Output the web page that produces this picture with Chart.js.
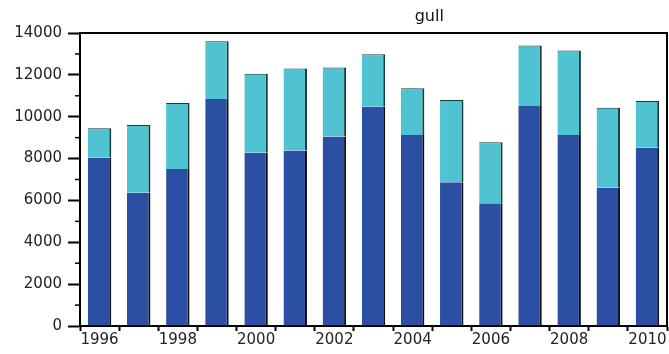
<!DOCTYPE html>
<html>
<head>
<meta charset="utf-8">
<script src="https://cdn.jsdelivr.net/npm/chart.js@4/dist/chart.umd.min.js"></script>
<style>
  html, body { margin: 0; padding: 0; background: #fff; }
  #wrap { width: 669px; height: 354px; }
</style>
</head>
<body>
<div id="wrap"><canvas id="myChart" width="669" height="354"></canvas></div>
<script>
const years = ['1996', '1997', '1998', '1999', '2000', '2001', '2002', '2003',
  '2004', '2005', '2006', '2007', '2008', '2009', '2010'];
// lower (dark blue) part of each bar
const lowerPart = [8050, 6370, 7500, 10850, 8280, 8380, 9050, 10480, 9130, 6870, 5860, 10510, 9130, 6610, 8520];
// upper (light blue) part stacked on top
const upperPart = [1400, 3230, 3150, 2750, 3770, 3920, 3300, 2500, 2230, 3930, 2920, 2890, 4030, 3820, 2230];
const yTicks = [0, 2000, 4000, 6000, 8000, 10000, 12000, 14000];
const title = 'gull';

const FONT = { family: 'DejaVu Sans', size: 15 };

// frame, minor ticks and the title text
const extras = {
  id: 'extras',
  afterDraw(chart) {
    const { ctx, chartArea: a, scales } = chart;
    ctx.save();
    ctx.strokeStyle = '#000';
    ctx.lineWidth = 2;
    ctx.beginPath();
    ctx.moveTo(a.left, a.top);
    ctx.lineTo(a.right, a.top);
    ctx.lineTo(a.right, a.bottom);
    ctx.stroke();
    // minor ticks between labelled values
    ctx.lineWidth = 1.5;
    for (let i = 0; i < yTicks.length - 1; i++) {
      const v = (yTicks[i] + yTicks[i + 1]) / 2;
      const y = scales.y.getPixelForValue(v);
      ctx.beginPath();
      ctx.moveTo(a.left - 5, y);
      ctx.lineTo(a.left, y);
      ctx.stroke();
    }
    ctx.fillStyle = '#111';
    ctx.font = '16px "DejaVu Sans"';
    ctx.textAlign = 'center';
    ctx.textBaseline = 'middle';
    ctx.fillText(title, a.left + (a.right - a.left) * 0.595, 17);
    ctx.restore();
  }
};

new Chart(document.getElementById('myChart'), {
  type: 'bar',
  data: {
    labels: years,
    datasets: [
      {
        data: lowerPart,
        backgroundColor: '#2b4fa3',
        borderColor: '#111',
        borderWidth: { top: 0, right: 2, left: 0, bottom: 0 },
        borderSkipped: false,
        barPercentage: 0.6,
        categoryPercentage: 1
      },
      {
        data: upperPart,
        backgroundColor: '#4fc3d1',
        borderColor: '#1a3a3a',
        borderWidth: { top: 1, right: 2, left: 0, bottom: 0 },
        borderSkipped: false,
        barPercentage: 0.6,
        categoryPercentage: 1
      }
    ]
  },
  options: {
    responsive: false,
    animation: false,
    layout: { padding: { top: 33, right: 2, left: 0, bottom: 0 } },
    plugins: {
      legend: { display: false },
      title: { display: false },
      tooltip: { enabled: false }
    },
    scales: {
      x: {
        stacked: true,
        offset: true,
        afterFit(s) { s.height = 28; },
        border: { display: true, color: '#000', width: 2 },
        grid: {
          offset: true,
          drawOnChartArea: false,
          drawTicks: true,
          tickLength: 5,
          tickColor: '#000',
          tickWidth: 2
        },
        ticks: {
          autoSkip: false,
          maxRotation: 0,
          padding: 0,
          color: '#222',
          font: FONT,
          callback(v, i) { return i % 2 === 0 ? years[i] : ''; }
        }
      },
      y: {
        stacked: true,
        min: 0,
        max: 14000,
        afterFit(s) { s.width = 80; },
        afterBuildTicks(s) { s.ticks = yTicks.map(v => ({ value: v })); },
        border: { display: true, color: '#000', width: 2 },
        grid: {
          drawOnChartArea: false,
          drawTicks: true,
          tickLength: 12,
          tickColor: '#000',
          tickWidth: 2
        },
        ticks: {
          padding: 6,
          color: '#222',
          font: FONT,
          callback(v) { return String(v); }
        }
      }
    }
  },
  plugins: [extras]
});
</script>
</body>
</html>
